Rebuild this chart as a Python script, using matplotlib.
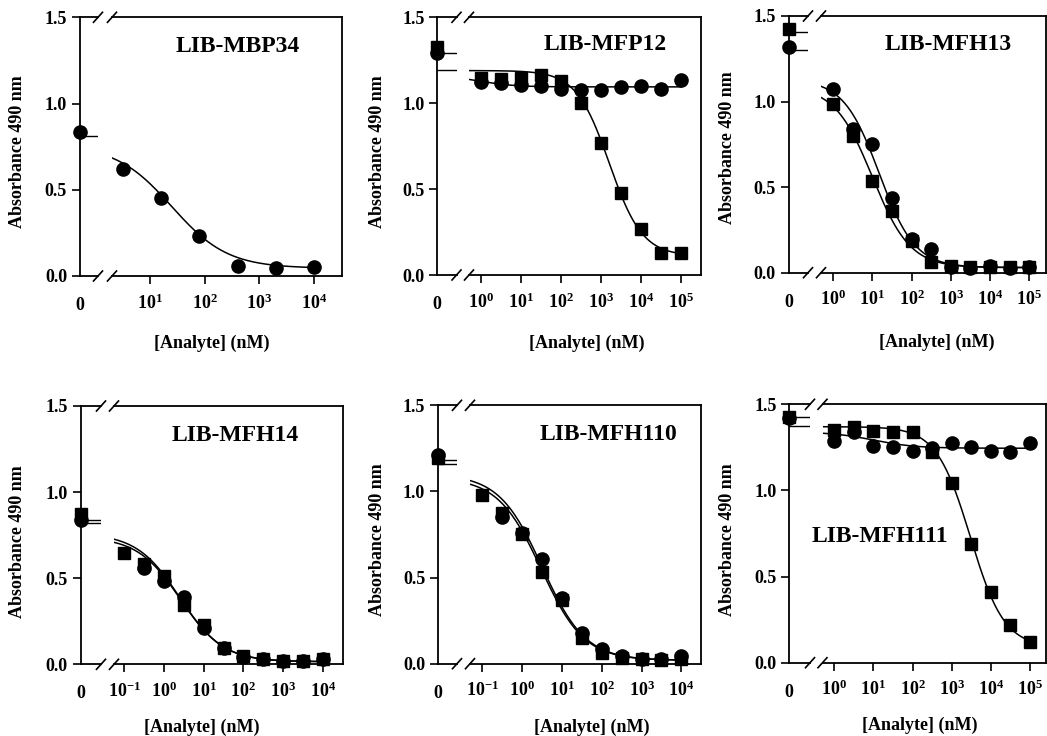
import numpy as np
import matplotlib.pyplot as plt
from matplotlib.lines import Line2D
from matplotlib.ticker import NullLocator

plt.rcParams['font.family'] = 'Liberation Serif'
plt.rcParams['font.weight'] = 'bold'
plt.rcParams['mathtext.fontset'] = 'custom'
plt.rcParams['mathtext.rm'] = 'Liberation Serif:bold'
plt.rcParams['mathtext.bf'] = 'Liberation Serif:bold'
plt.rcParams['mathtext.it'] = 'Liberation Serif:bold'

# ---------------- data ----------------
# concentrations (nM)
conc_mbp = [3.2, 16, 80, 400, 2000, 10000]
conc_hi = [1, 3.16, 10, 31.6, 100, 316, 1000, 3160, 10000, 31600, 100000]
conc_lo = [0.1, 0.316, 1, 3.16, 10, 31.6, 100, 316, 1000, 3160, 10000]

# LIB-MBP34 (circles only)
mbp34_circ = [0.62, 0.454, 0.232, 0.06, 0.048, 0.054]
mbp34_zero_circ = 0.837
mbp34_zero_lines = [0.81]
mbp34_fit_circ = (0.76, 0.045, 25, 0.85)   # top, bottom, IC50, slope

# LIB-MFP12
mfp12_circ = [1.125, 1.116, 1.106, 1.10, 1.081, 1.077, 1.077, 1.096, 1.10, 1.081, 1.135]
mfp12_sq = [1.145, 1.139, 1.145, 1.164, 1.131, 0.999, 0.767, 0.479, 0.266, 0.13, 0.13]
mfp12_zero_circ = 1.29
mfp12_zero_sq = 1.329
mfp12_zero_lines = [1.29, 1.193]
mfp12_fit_circ = (1.16, 1.095, 1.0, 1.0)
mfp12_fit_sq = (1.19, 0.11, 1600, 1.05)

# LIB-MFH13
mfh13_circ = [1.071, 0.838, 0.75, 0.434, 0.195, 0.136, 0.035, 0.029, 0.039, 0.025, 0.035]
mfh13_sq = [0.984, 0.799, 0.538, 0.362, 0.187, 0.064, 0.039, 0.035, 0.035, 0.035, 0.035]
mfh13_zero_circ = 1.321
mfh13_zero_sq = 1.422
mfh13_zero_lines = [1.405, 1.30]
mfh13_fit_circ = (1.13, 0.03, 15, 0.95)
mfh13_fit_sq = (1.09, 0.03, 10, 0.9)

# LIB-MFH14 (no circle at 0.1 nM)
mfh14_circ = [0.557, 0.486, 0.393, 0.209, 0.093, 0.045, 0.029, 0.019, 0.019, 0.029]
mfh14_sq = [0.644, 0.58, 0.513, 0.344, 0.228, 0.097, 0.048, 0.029, 0.019, 0.019, 0.029]
mfh14_zero_circ = 0.838
mfh14_zero_sq = 0.873
mfh14_zero_lines = [0.838, 0.819]
mfh14_fit_circ = (0.74, 0.015, 2.6, 0.8)
mfh14_fit_sq = (0.76, 0.015, 2.5, 0.8)

# LIB-MFH110 (no circle at 0.1 nM)
mfh110_circ = [0.853, 0.761, 0.606, 0.379, 0.176, 0.083, 0.045, 0.025, 0.025, 0.045]
mfh110_sq = [0.979, 0.873, 0.753, 0.534, 0.37, 0.147, 0.064, 0.035, 0.025, 0.021, 0.025]
mfh110_zero_circ = 1.211
mfh110_zero_sq = 1.192
mfh110_zero_lines = [1.18, 1.157]
mfh110_fit_circ = (1.10, 0.02, 3.2, 0.8)
mfh110_fit_sq = (1.08, 0.02, 3.0, 0.8)

# LIB-MFH111
mfh111_circ = [1.287, 1.341, 1.258, 1.25, 1.231, 1.244, 1.277, 1.25, 1.231, 1.225, 1.277]
mfh111_sq = [1.351, 1.366, 1.345, 1.341, 1.341, 1.225, 1.045, 0.689, 0.408, 0.219, 0.122]
mfh111_zero_circ = 1.42
mfh111_zero_sq = 1.428
mfh111_zero_lines = [1.425, 1.375]
mfh111_fit_circ = (1.34, 1.245, 10, 0.8)
mfh111_fit_sq = (1.37, 0.09, 3000, 1.0)

# ---------------- layout (pixel positions of the reference) ----------------
W, H = 1047, 736
panels = [
    dict(name='LIB-MBP34', box=(79.5, 98, 112, 342, 17.3, 276), xlim=(0.305, 4.51), exps=[1, 2, 3, 4],
         circ=(conc_mbp, mbp34_circ, mbp34_zero_circ, mbp34_fit_circ), sq=None,
         zlines=mbp34_zero_lines, title_xy=(238, 47), ylab_xy=(18, 152), xlab_xy=(212, 343)),
    dict(name='LIB-MFP12', box=(437, 456.5, 469, 700.5, 17.3, 275), xlim=(-0.30, 5.48), exps=[0, 1, 2, 3, 4, 5],
         circ=(conc_hi, mfp12_circ, mfp12_zero_circ, mfp12_fit_circ),
         sq=(conc_hi, mfp12_sq, mfp12_zero_sq, mfp12_fit_sq),
         zlines=mfp12_zero_lines, title_xy=(605, 44), ylab_xy=(377, 152), xlab_xy=(587, 343)),
    dict(name='LIB-MFH13', box=(788.5, 808, 821, 1046, 16, 272.7), xlim=(-0.31, 5.43), exps=[0, 1, 2, 3, 4, 5],
         circ=(conc_hi, mfh13_circ, mfh13_zero_circ, mfh13_fit_circ),
         sq=(conc_hi, mfh13_sq, mfh13_zero_sq, mfh13_fit_sq),
         zlines=mfh13_zero_lines, title_xy=(948, 45), ylab_xy=(728, 148), xlab_xy=(937, 342)),
    dict(name='LIB-MFH14', box=(80.5, 101, 114, 343, 406, 664.3), xlim=(-1.26, 4.51), exps=[-1, 0, 1, 2, 3, 4],
         circ=(conc_lo[1:], mfh14_circ, mfh14_zero_circ, mfh14_fit_circ),
         sq=(conc_lo, mfh14_sq, mfh14_zero_sq, mfh14_fit_sq),
         zlines=mfh14_zero_lines, title_xy=(235, 435), ylab_xy=(18, 542), xlab_xy=(202, 727)),
    dict(name='LIB-MFH110', box=(437.7, 457, 470, 700.5, 405.3, 663.7), xlim=(-1.31, 4.48), exps=[-1, 0, 1, 2, 3, 4],
         circ=(conc_lo[1:], mfh110_circ, mfh110_zero_circ, mfh110_fit_circ),
         sq=(conc_lo, mfh110_sq, mfh110_zero_sq, mfh110_fit_sq),
         zlines=mfh110_zero_lines, title_xy=(608, 434), ylab_xy=(377, 540), xlab_xy=(592, 727)),
    dict(name='LIB-MFH111', box=(789.3, 810, 822.5, 1046, 404.3, 662.7), xlim=(-0.30, 5.41), exps=[0, 1, 2, 3, 4, 5],
         circ=(conc_hi, mfh111_circ, mfh111_zero_circ, mfh111_fit_circ),
         sq=(conc_hi, mfh111_sq, mfh111_zero_sq, mfh111_fit_sq),
         zlines=mfh111_zero_lines, title_xy=(880, 536), ylab_xy=(728, 540), xlab_xy=(920, 725)),
]


def fx(x):
    return x / W


def fy(y):
    return 1 - y / H


def logistic(x, top, bottom, ic50, slope):
    return bottom + (top - bottom) / (1 + (x / ic50) ** slope)


fig = plt.figure(figsize=(W / 100, H / 100), dpi=100)

for p in panels:
    L, B1, B2, R, T, Bt = p['box']
    ax0 = fig.add_axes([fx(L), fy(Bt), fx(B1) - fx(L), fy(T) - fy(Bt)])
    ax1 = fig.add_axes([fx(B2), fy(Bt), fx(R) - fx(B2), fy(T) - fy(Bt)])

    for ax in (ax0, ax1):
        ax.set_ylim(0, 1.5)
        for s in ax.spines.values():
            s.set_linewidth(1.3)
    ax0.spines['right'].set_visible(False)
    ax1.spines['left'].set_visible(False)

    # zero-concentration section
    ax0.set_xlim(0, 1)
    ax0.set_xticks([0], ['0'])
    ax0.set_yticks([0, 0.5, 1.0, 1.5], ['0.0', '0.5', '1.0', '1.5'])
    ax0.tick_params(axis='y', direction='out', length=6, width=1.2, pad=3, labelsize=13)
    ax0.tick_params(axis='x', length=0, pad=15, labelsize=13)
    for yv in p['zlines']:
        ax0.plot([0, 1], [yv, yv], color='k', lw=1.0, zorder=2)

    # log section
    ax1.set_xscale('log')
    ax1.set_xlim(10 ** p['xlim'][0], 10 ** p['xlim'][1])
    ax1.xaxis.set_minor_locator(NullLocator())
    ax1.set_xticks([10.0 ** e for e in p['exps']], ['$10^{%d}$' % e for e in p['exps']])
    ax1.set_yticks([])
    ax1.tick_params(axis='x', direction='out', length=5.5, width=1.2, pad=7, labelsize=13)

    for series, marker, ms, z in ((p['circ'], 'o', 9.5, 3), (p['sq'], 's', 8.5, 4)):
        if series is None:
            continue
        conc, vals, zero_val, fit = series
        xs = np.logspace(p['xlim'][0], np.log10(conc[-1]), 300)
        ax1.plot(xs, logistic(xs, *fit), color='k', lw=1.1, zorder=2)
        ax1.plot(conc, vals, linestyle='none', marker=marker, ms=ms, color='k', zorder=z, clip_on=False)
        ax0.plot([0], [zero_val], linestyle='none', marker=marker, ms=ms, color='k', zorder=z, clip_on=False)

    # break marks
    for cx in (B1, B2):
        for cy in (T, Bt):
            fig.add_artist(Line2D([fx(cx - 4.5), fx(cx + 4.5)], [fy(cy + 5), fy(cy - 5)],
                                  transform=fig.transFigure, color='k', lw=1.2))

    ax1.text(fx(p['title_xy'][0]), fy(p['title_xy'][1]), p['name'], transform=fig.transFigure,
             ha='center', va='center', fontsize=17, fontweight='bold')

    ax0.set_ylabel('Absorbance 490 nm', fontsize=13, fontweight='bold')
    ax0.yaxis.set_label_coords(fx(p['ylab_xy'][0]), fy(p['ylab_xy'][1]), transform=fig.transFigure)
    ax0.yaxis.label.set_va('center')
    ax1.set_xlabel('[Analyte] (nM)', fontsize=13, fontweight='bold')
    ax1.xaxis.set_label_coords(fx(p['xlab_xy'][0]), fy(p['xlab_xy'][1]), transform=fig.transFigure)
    ax1.xaxis.label.set_va('center')

fig.savefig('out.png', dpi=100)
